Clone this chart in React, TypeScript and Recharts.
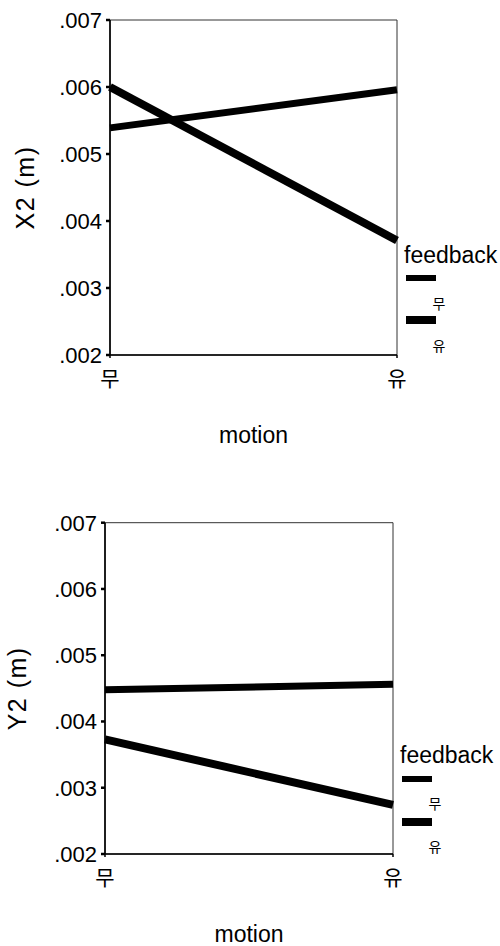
import React from 'react';
import { LineChart, Line, XAxis, YAxis, ReferenceArea } from 'recharts';

const motion = ['무', '유'];
const feedbackLevels = ['무', '유'];
const yTicks = [0.002, 0.003, 0.004, 0.005, 0.006, 0.007];
// X2 (m)
const x2NoFeedback = [0.00539, 0.00596];
const x2Feedback = [0.006, 0.00371];
// Y2 (m)
const y2NoFeedback = [0.00448, 0.00456];
const y2Feedback = [0.00373, 0.00274];

const FONT = "'Liberation Sans', Arial, 'Noto Sans CJK KR', sans-serif";
const CJK = "'Noto Sans CJK KR', sans-serif";

const fmt = (v: number) => v.toFixed(3).replace(/^0/, '');

type PanelProps = {
  yLabel: string;
  noFb: number[];
  fb: number[];
  top: number;
  height: number;
  plotLeft: number;
  plotRight: number;
  plotTop: number;
  plotBottom: number;
  yLabelX: number;
  legend: { x: number; title: number; l1: number; l2: number; t1: number; t2: number };
};

const Panel = (p: PanelProps) => {
  const data = motion.map((m, i) => ({ motion: m, s0: p.noFb[i], s1: p.fb[i] }));
  const heights = [6, 8];
  const lineYs = [p.legend.l1, p.legend.l2];
  const labelYs = [p.legend.t1, p.legend.t2];
  return (
    <div style={{ position: 'absolute', left: 0, top: p.top, width: 500, height: p.height }}>
      <LineChart
        width={500}
        height={p.height}
        data={data}
        margin={{ top: p.plotTop, right: 500 - p.plotRight, bottom: 0, left: 0 }}
      >
        <ReferenceArea
          x1="무"
          x2="유"
          y1={0.002}
          y2={0.007}
          fill="none"
          stroke="#333"
          strokeWidth={1}
          ifOverflow="visible"
        />
        <XAxis
          dataKey="motion"
          type="category"
          padding={{ left: 0, right: 0 }}
          height={p.height - p.plotBottom}
          axisLine={{ stroke: '#000', strokeWidth: 1.6 }}
          tickLine={{ stroke: '#000', strokeWidth: 1.5 }}
          tickSize={3}
          interval={0}
          tick={(t: any) => (
            <text
              x={t.x}
              y={t.y + 17}
              textAnchor="middle"
              dominantBaseline="central"
              fontFamily={CJK}
              fontSize={21}
              fill="#000"
            >
              {t.payload.value}
            </text>
          )}
          label={{
            content: (lp: any) => {
              const vb = lp.viewBox || {};
              return (
                <text
                  x={(vb.x ?? 0) + (vb.width ?? 0) / 2}
                  y={(vb.y ?? 0) + 80}
                  textAnchor="middle"
                  dominantBaseline="central"
                  fontFamily={FONT}
                  fontSize={23}
                  fill="#000"
                >
                  motion
                </text>
              );
            },
          }}
        />
        <YAxis
          type="number"
          domain={[0.002, 0.007]}
          ticks={yTicks}
          allowDataOverflow
          width={p.plotLeft}
          tickFormatter={fmt}
          axisLine={{ stroke: '#000', strokeWidth: 1.6 }}
          tickLine={{ stroke: '#000', strokeWidth: 2.5 }}
          tickSize={4}
          tickMargin={4}
          tick={{ fontFamily: FONT, fontSize: 22, fill: '#000' }}
          label={{
            content: (lp: any) => {
              const vb = lp.viewBox || {};
              const cy = (vb.y ?? 0) + (vb.height ?? 0) / 2;
              return (
                <text
                  x={p.yLabelX}
                  y={cy}
                  transform={`rotate(-90 ${p.yLabelX} ${cy})`}
                  textAnchor="middle"
                  dominantBaseline="central"
                  fontFamily={FONT}
                  fontSize={25}
                  letterSpacing={1.5}
                  fill="#000"
                  style={{ whiteSpace: 'pre' }}
                >
                  {p.yLabel}
                </text>
              );
            },
          }}
        />
        <Line
          dataKey="s0"
          name="무"
          stroke="#000"
          strokeWidth={7}
          dot={false}
          isAnimationActive={false}
        />
        <Line
          dataKey="s1"
          name="유"
          stroke="#000"
          strokeWidth={8}
          dot={false}
          isAnimationActive={false}
        />
      </LineChart>
      <svg
        width={500}
        height={p.height}
        style={{ position: 'absolute', left: 0, top: 0, pointerEvents: 'none' }}
      >
        <text x={p.legend.x - 2} y={p.legend.title} fontFamily={FONT} fontSize={23} fill="#000">
          feedback
        </text>
        {feedbackLevels.map((f, i) => (
          <g key={f}>
            <rect
              x={p.legend.x}
              y={lineYs[i] - heights[i] / 2}
              width={30}
              height={heights[i]}
              fill="#000"
            />
            <text
              x={p.legend.x + 33}
              y={labelYs[i]}
              textAnchor="middle"
              dominantBaseline="central"
              fontFamily={CJK}
              fontSize={14}
              fill="#000"
            >
              {f}
            </text>
          </g>
        ))}
      </svg>
    </div>
  );
};

export default function App() {
  return (
    <div
      style={{
        position: 'absolute',
        left: 0,
        top: 0,
        width: 500,
        height: 946,
        background: '#fff',
        overflow: 'hidden',
      }}
    >
      <Panel
        yLabel="X2 (m)"
        noFb={x2NoFeedback}
        fb={x2Feedback}
        top={0}
        height={480}
        plotLeft={110}
        plotRight={397}
        plotTop={20}
        plotBottom={355}
        yLabelX={25}
        legend={{ x: 406, title: 263, l1: 278, l2: 320, t1: 303, t2: 345 }}
      />
      <Panel
        yLabel="Y2 (m)"
        noFb={y2NoFeedback}
        fb={y2Feedback}
        top={480}
        height={466}
        plotLeft={105}
        plotRight={393}
        plotTop={42.7}
        plotBottom={374}
        yLabelX={17}
        legend={{ x: 402, title: 283, l1: 299, l2: 342, t1: 323, t2: 366 }}
      />
    </div>
  );
}
